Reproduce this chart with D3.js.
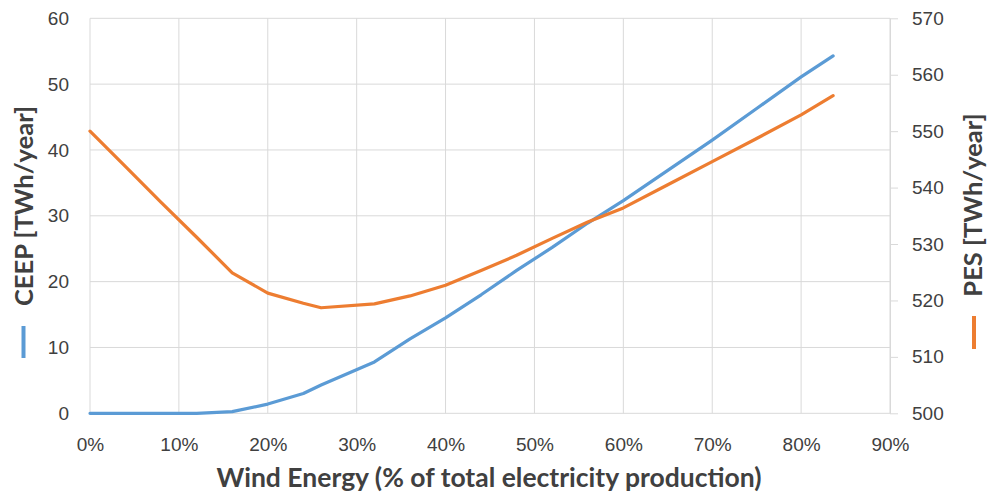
<!DOCTYPE html>
<html>
<head>
<meta charset="utf-8">
<script src="https://cdn.jsdelivr.net/npm/d3@7"></script>
<style>
  html, body { margin: 0; padding: 0; background: #fff; }
  svg { display: block; font-family: Lato, "Open Sans", sans-serif; }
</style>
</head>
<body>
<svg id="chart" width="988" height="495"></svg>
<script>
// Wind share of total electricity production (%)
const windShare = [0, 4, 8, 12, 16, 20, 24, 26, 32, 36, 40, 44, 48, 52, 56, 60, 65, 70, 75, 80, 83.6];
// Critical excess electricity production, TWh/year (left axis)
const ceep = [0, 0, 0, 0, 0.25, 1.4, 3.0, 4.3, 7.8, 11.3, 14.5, 18.0, 21.7, 25.2, 28.9, 32.3, 36.9, 41.5, 46.3, 51.1, 54.3];
// Primary energy supply, TWh/year (right axis)
const pes = [550, 543.7, 537.4, 531.2, 524.9, 521.3, 519.5, 518.7, 519.4, 520.8, 522.7, 525.3, 528.0, 531.0, 533.9, 536.4, 540.5, 544.6, 548.7, 552.9, 556.3];

const xTicks = [0, 10, 20, 30, 40, 50, 60, 70, 80, 90];
const leftTicks = [0, 10, 20, 30, 40, 50, 60];
const rightTicks = [500, 510, 520, 530, 540, 550, 560, 570];

const svg = d3.select("#chart");
const m = { left: 90, right: 890, top: 18.3, bottom: 413.3 };

const x = d3.scaleLinear().domain([0, 90]).range([m.left, m.right]);
const yL = d3.scaleLinear().domain([0, 60]).range([m.bottom, m.top]);
const yR = d3.scaleLinear().domain([500, 570]).range([m.bottom, m.top]);

const gridColor = "#d9d9d9";
const textColor = "#404040";

// Gridlines
const grid = svg.append("g");
grid.selectAll("line.v").data(xTicks).join("line")
  .attr("x1", d => x(d)).attr("x2", d => x(d))
  .attr("y1", m.top).attr("y2", m.bottom)
  .attr("stroke", gridColor).attr("stroke-width", 1);
grid.selectAll("line.h").data(leftTicks).join("line")
  .attr("x1", m.left).attr("x2", m.right)
  .attr("y1", d => yL(d)).attr("y2", d => yL(d))
  .attr("stroke", gridColor).attr("stroke-width", 1);

// Bottom axis
const xAxis = d3.axisBottom(x).tickValues(xTicks).tickFormat(d => d + "%").tickSize(0).tickPadding(24);
const gx = svg.append("g").attr("transform", `translate(0,${m.bottom})`).call(xAxis);
gx.select(".domain").remove();
gx.selectAll("text").attr("fill", textColor).style("font-size", "19px");

// Left axis
const lAxis = d3.axisLeft(yL).tickValues(leftTicks).tickSize(0).tickPadding(21);
const gl = svg.append("g").attr("transform", `translate(${m.left},0)`).call(lAxis);
gl.select(".domain").remove();
gl.selectAll("text").attr("fill", textColor).style("font-size", "19px");

// Right axis
const rAxis = d3.axisRight(yR).tickValues(rightTicks).tickSize(8).tickSizeOuter(0).tickPadding(14);
const gr = svg.append("g").attr("transform", `translate(${m.right},0)`).call(rAxis);
gr.select(".domain").attr("stroke", gridColor);
gr.selectAll(".tick line").attr("stroke", gridColor);
gr.selectAll("text").attr("fill", textColor).style("font-size", "19px");

// Series
const pts = windShare.map((w, i) => ({ w, c: ceep[i], p: pes[i] }));
svg.append("path").datum(pts)
  .attr("fill", "none").attr("stroke", "#5b9bd5").attr("stroke-width", 3.2)
  .attr("stroke-linejoin", "round").attr("stroke-linecap", "round")
  .attr("d", d3.line().x(d => x(d.w)).y(d => yL(d.c)));
svg.append("path").datum(pts)
  .attr("fill", "none").attr("stroke", "#ed7d31").attr("stroke-width", 3.2)
  .attr("stroke-linejoin", "round").attr("stroke-linecap", "round")
  .attr("d", d3.line().x(d => x(d.w)).y(d => yR(d.p)));

// Axis titles
svg.append("text")
  .attr("x", 489).attr("y", 487)
  .attr("text-anchor", "middle")
  .attr("fill", textColor).style("font-size", "26.5px").style("font-weight", "bold")
  .text("Wind Energy (% of total electricity production)");

svg.append("text")
  .attr("transform", "translate(33,206) rotate(-90)")
  .attr("text-anchor", "middle")
  .attr("fill", textColor).style("font-size", "25.5px").style("font-weight", "bold")
  .text("CEEP [TWh/year]");
svg.append("line")
  .attr("x1", 23.5).attr("x2", 23.5).attr("y1", 326).attr("y2", 358)
  .attr("stroke", "#5b9bd5").attr("stroke-width", 4);

svg.append("text")
  .attr("transform", "translate(982,205) rotate(-90)")
  .attr("text-anchor", "middle")
  .attr("fill", textColor).style("font-size", "25.5px").style("font-weight", "bold")
  .text("PES [TWh/year]");
svg.append("line")
  .attr("x1", 974).attr("x2", 974).attr("y1", 316).attr("y2", 349)
  .attr("stroke", "#ed7d31").attr("stroke-width", 4);
</script>
</body>
</html>
